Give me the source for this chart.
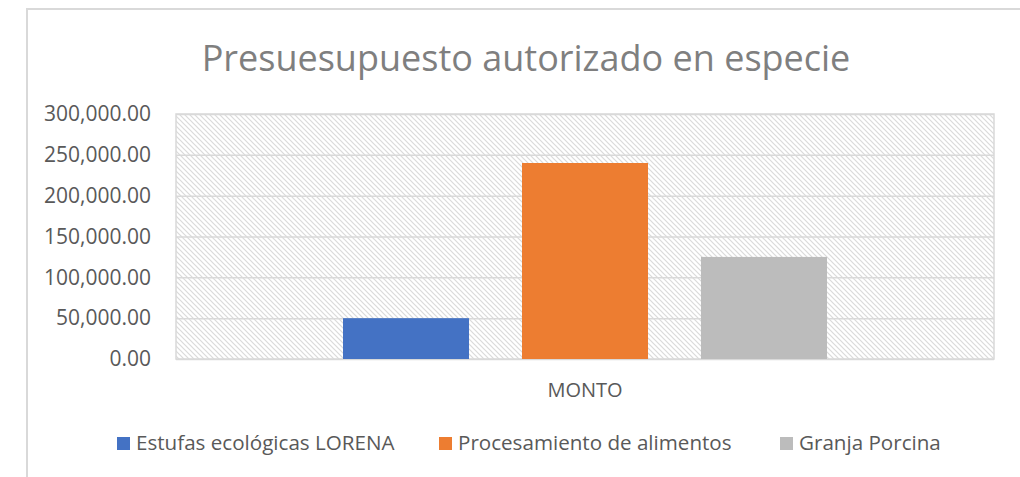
<!DOCTYPE html>
<html>
<head>
<meta charset="utf-8">
<script src="https://cdn.jsdelivr.net/npm/d3@7"></script>
<style>
  body { margin: 0; background: #fff; }
  text { font-family: "Open Sans", sans-serif; }
</style>
</head>
<body>
<div id="chart"></div>
<script>
// chart data
const categories = ["MONTO"];
const seriesNames = ["Estufas ecológicas LORENA", "Procesamiento de alimentos", "Granja Porcina"];
const seriesValues = [50000, 240000, 125000];
const seriesColors = ["#4472c4", "#ed7d31", "#bcbcbc"];
const yTicks = [0, 50000, 100000, 150000, 200000, 250000, 300000];

const width = 1020;
const height = 477;
const plot = { left: 176, right: 994, top: 114, bottom: 359 };

const svg = d3
  .select("#chart")
  .append("svg")
  .attr("width", width)
  .attr("height", height);

// hatched background for the plot area
const defs = svg.append("defs");
const pat = defs
  .append("pattern")
  .attr("id", "hatch")
  .attr("patternUnits", "userSpaceOnUse")
  .attr("width", 5)
  .attr("height", 5);
pat.append("rect").attr("width", 5).attr("height", 5).attr("fill", "#fff");
pat
  .append("path")
  .attr("d", "M0,0 L5,5 M-1,4 L1,6 M4,-1 L6,1")
  .attr("stroke", "#dadada")
  .attr("stroke-width", 1.2);

// outer frame of the chart
svg
  .append("rect")
  .attr("x", 27)
  .attr("y", 9)
  .attr("width", 1100)
  .attr("height", 600)
  .attr("fill", "#fff")
  .attr("stroke", "#d9d9d9")
  .attr("stroke-width", 2);

svg
  .append("text")
  .attr("x", 526)
  .attr("y", 71)
  .attr("text-anchor", "middle")
  .attr("fill", "#7f7f7f")
  .attr("font-size", 36)
  .text("Presuesupuesto autorizado en especie");

const y = d3
  .scaleLinear()
  .domain([0, 300000])
  .range([plot.bottom, plot.top]);

const x0 = d3
  .scaleBand()
  .domain(categories)
  .range([plot.left, plot.right]);

const x1 = d3
  .scaleBand()
  .domain(seriesNames)
  .range([0, x0.bandwidth()])
  .paddingInner(0.296)
  .paddingOuter(0.933);

svg
  .append("rect")
  .attr("x", plot.left)
  .attr("y", plot.top)
  .attr("width", plot.right - plot.left)
  .attr("height", plot.bottom - plot.top)
  .attr("fill", "url(#hatch)")
  .attr("stroke", "#d9d9d9")
  .attr("stroke-width", 1.5);

// gridlines + tick labels
const fmt = d3.format(",.2f");
const yAxis = d3
  .axisLeft(y)
  .tickValues(yTicks)
  .tickSize(-(plot.right - plot.left))
  .tickPadding(25)
  .tickFormat(fmt);

const gy = svg
  .append("g")
  .attr("transform", `translate(${plot.left},0)`)
  .call(yAxis);
gy.select(".domain").remove();
gy.selectAll(".tick line").attr("stroke", "#d9d9d9").attr("stroke-width", 1.5);
gy.selectAll(".tick text")
  .attr("fill", "#595959")
  .attr("font-size", 21)
  .style("font-family", "Open Sans, sans-serif");

// bars
const data = seriesNames.map((name, i) => ({
  name: name,
  value: seriesValues[i],
  color: seriesColors[i]
}));

svg
  .selectAll(".bar")
  .data(data)
  .enter()
  .append("rect")
  .attr("class", "bar")
  .attr("x", d => x0(categories[0]) + x1(d.name))
  .attr("y", d => y(d.value))
  .attr("width", x1.bandwidth())
  .attr("height", d => y(0) - y(d.value))
  .attr("fill", d => d.color);

// category label
svg
  .append("text")
  .attr("x", x0(categories[0]) + x0.bandwidth() / 2)
  .attr("y", 397)
  .attr("text-anchor", "middle")
  .attr("fill", "#595959")
  .attr("font-size", 20)
  .text(categories[0]);

// legend
const legendX = [117, 439, 780];
const legend = svg
  .selectAll(".legend")
  .data(data)
  .enter()
  .append("g")
  .attr("class", "legend")
  .attr("transform", (d, i) => `translate(${legendX[i]},437)`);

legend
  .append("rect")
  .attr("width", 13)
  .attr("height", 13)
  .attr("fill", d => d.color);

legend
  .append("text")
  .attr("x", 19)
  .attr("y", 13)
  .attr("fill", "#595959")
  .attr("font-size", 20.6)
  .text(d => d.name);
</script>
</body>
</html>
